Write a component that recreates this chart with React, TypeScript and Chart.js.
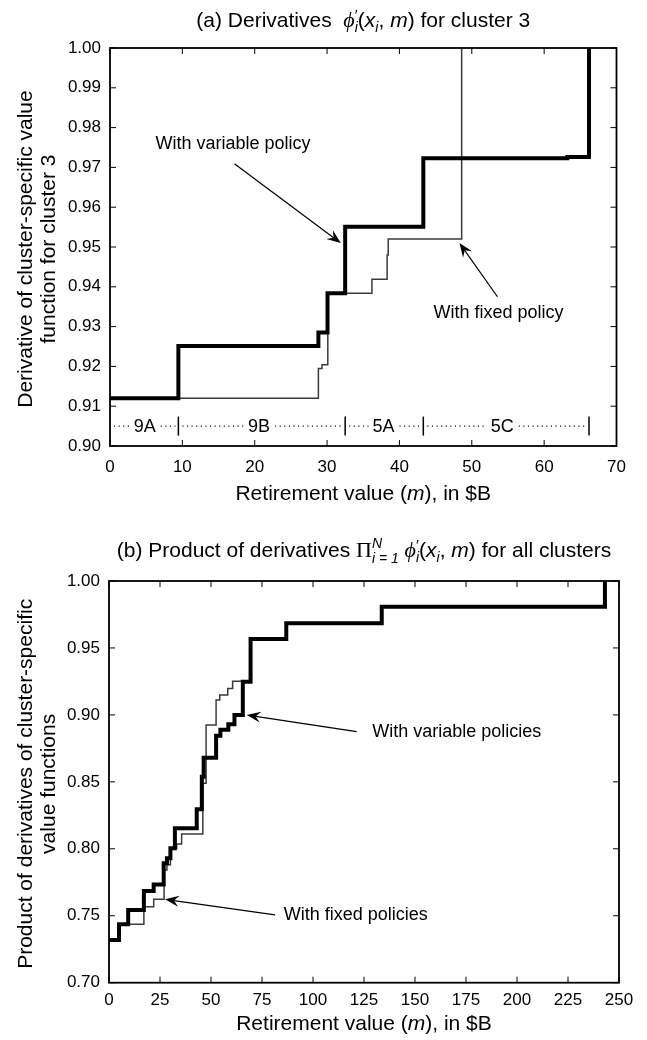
import React, { useEffect, useRef } from "react";
import { Chart, registerables } from "chart.js";

Chart.register(...registerables);

const SANS = '"Liberation Sans", Arial, Helvetica, sans-serif';
const SERIF = '"Liberation Serif", "DejaVu Serif", serif';

// ---------------- Panel (a) data ----------------
const xTicksA = [0, 10, 20, 30, 40, 50, 60, 70];
const xTickLabelsA = ["0", "10", "20", "30", "40", "50", "60", "70"];
const yTicksA = [0.9, 0.91, 0.92, 0.93, 0.94, 0.95, 0.96, 0.97, 0.98, 0.99, 1.0];
const yTickLabelsA = ["0.90", "0.91", "0.92", "0.93", "0.94", "0.95", "0.96", "0.97", "0.98", "0.99", "1.00"];

const mVariableA = [0, 9.45, 28.8, 30.06, 32.5, 43.3, 63.2, 66.2];
const dVariableA = [0.912, 0.9251, 0.9285, 0.9384, 0.9551, 0.9723, 0.9726, 1.0];
const mFixedA = [0, 28.8, 29.3, 30.1, 36.2, 38.3, 38.45, 48.6];
const dFixedA = [0.912, 0.9195, 0.9204, 0.9384, 0.9419, 0.948, 0.952, 1.0];

const segmentBounds = [0, 9.45, 32.5, 43.3, 66.2];
const segmentNames = ["9A", "9B", "5A", "5C"];
const segmentLabelAt = [4.8, 20.6, 37.8, 54.2];
const segmentLevel = 0.905;

// ---------------- Panel (b) data ----------------
const xTicksB = [0, 25, 50, 75, 100, 125, 150, 175, 200, 225, 250];
const xTickLabelsB = ["0", "25", "50", "75", "100", "125", "150", "175", "200", "225", "250"];
const yTicksB = [0.7, 0.75, 0.8, 0.85, 0.9, 0.95, 1.0];
const yTickLabelsB = ["0.70", "0.75", "0.80", "0.85", "0.90", "0.95", "1.00"];

const mVariableB = [0, 4.9, 9.4, 17.1, 21.9, 26.8, 28.4, 30.1, 32.3, 43.0, 45.5, 46.4, 52.5, 54.6, 58.5, 61.5, 65.6, 69.4, 86.9, 133.7, 243.1];
const dVariableB = [0.7319, 0.7436, 0.7543, 0.7685, 0.7733, 0.7892, 0.7929, 0.8004, 0.8153, 0.8295, 0.8538, 0.868, 0.8845, 0.8889, 0.893, 0.8999, 0.9248, 0.9567, 0.9684, 0.9808, 1.0];
const mFixedB = [0, 4.9, 17.1, 21.9, 27.0, 28.4, 30.1, 33.2, 35.6, 46.0, 47.6, 52.5, 54.3, 58.2, 60.6, 65.6, 69.4, 86.9, 133.7, 243.1];
const dFixedB = [0.7319, 0.7436, 0.7568, 0.7623, 0.7842, 0.788, 0.8004, 0.8036, 0.811, 0.849, 0.8925, 0.9111, 0.9149, 0.9197, 0.9251, 0.9248, 0.9567, 0.9684, 0.9808, 1.0];

// ---------------- annotations (data coordinates) ----------------
const notesA = [
  { text: "With variable policy", at: [17.0, 0.9759], from: [17.2, 0.9709], to: [31.9, 0.951] },
  { text: "With fixed policy", at: [53.7, 0.9335], from: [53.55, 0.9375], to: [48.3, 0.951] },
];
const notesB = [
  { text: "With variable policies", at: [170.5, 0.8873], from: [121.4, 0.8875], to: [67.5, 0.8999] },
  { text: "With fixed policies", at: [121.0, 0.7504], from: [81.4, 0.7506], to: [27.45, 0.7623] },
];

type Seg = { t: string; size?: number; italic?: boolean; serif?: boolean; dy?: number; under?: Seg };

function fontOf(s: Seg, base: number) {
  return `${s.italic ? "italic " : ""}${s.size ?? base}px ${s.serif ? SERIF : SANS}`;
}

function drawRich(ctx: CanvasRenderingContext2D, segs: Seg[], cx: number, baseline: number, base: number) {
  const widths = segs.map((s) => {
    ctx.font = fontOf(s, base);
    let w = ctx.measureText(s.t).width;
    if (s.under) {
      ctx.font = fontOf(s.under, base);
      w = Math.max(w, ctx.measureText(s.under.t).width);
    }
    return w;
  });
  const total = widths.reduce((a, b) => a + b, 0);
  let x = cx - total / 2;
  ctx.textAlign = "left";
  ctx.textBaseline = "alphabetic";
  ctx.fillStyle = "#000";
  segs.forEach((s, i) => {
    ctx.font = fontOf(s, base);
    ctx.fillText(s.t, x, baseline + (s.dy ?? 0));
    if (s.under) {
      ctx.font = fontOf(s.under, base);
      ctx.fillText(s.under.t, x, baseline + (s.under.dy ?? 0));
    }
    x += widths[i];
  });
}

function arrow(ctx: CanvasRenderingContext2D, x1: number, y1: number, x2: number, y2: number) {
  const a = Math.atan2(y2 - y1, x2 - x1);
  const c = Math.cos(a), s = Math.sin(a);
  const L = 14, W = 5.5, N = 9;
  ctx.strokeStyle = "#000";
  ctx.fillStyle = "#000";
  ctx.lineWidth = 1.2;
  ctx.setLineDash([]);
  ctx.beginPath();
  ctx.moveTo(x1, y1);
  ctx.lineTo(x2 - N * c, y2 - N * s);
  ctx.stroke();
  ctx.beginPath();
  ctx.moveTo(x2, y2);
  ctx.lineTo(x2 - L * c + W * s, y2 - L * s - W * c);
  ctx.lineTo(x2 - N * c, y2 - N * s);
  ctx.lineTo(x2 - L * c - W * s, y2 - L * s + W * c);
  ctx.closePath();
  ctx.fill();
}

type PanelSpec = {
  title: Seg[];
  titleBaseline: number;
  yTitle: string[];
  yTitleX: number[];
  xTitleBaseline: number;
  xLabelPadding: number;
  notes: { text: string; at: number[]; from: number[]; to: number[] }[];
  xTicks: number[];
  yTicks: number[];
  segments?: boolean;
};

function makePlugin(spec: PanelSpec) {
  return {
    id: "panelDecor",
    afterDraw(chart: any) {
      const ctx: CanvasRenderingContext2D = chart.ctx;
      const { left, right, top, bottom } = chart.chartArea;
      const xs = chart.scales.x;
      const ys = chart.scales.y;
      ctx.save();

      // segments row (panel a)
      if (spec.segments) {
        const yl = ys.getPixelForValue(segmentLevel);
        ctx.font = `18px ${SANS}`;
        ctx.fillStyle = "#000";
        ctx.textAlign = "center";
        ctx.textBaseline = "middle";
        for (let i = 0; i < segmentNames.length; i++) {
          const a = xs.getPixelForValue(segmentBounds[i]);
          const b = xs.getPixelForValue(segmentBounds[i + 1]);
          const lx = xs.getPixelForValue(segmentLabelAt[i]);
          const w = ctx.measureText(segmentNames[i]).width;
          ctx.fillText(segmentNames[i], lx, yl + 1);
          ctx.strokeStyle = "#000";
          ctx.lineWidth = 1.1;
          ctx.setLineDash([1.1, 3.5]);
          ctx.beginPath();
          ctx.moveTo(a + 4, yl);
          ctx.lineTo(lx - w / 2 - 4, yl);
          ctx.moveTo(lx + w / 2 + 5, yl);
          ctx.lineTo(b - 3, yl);
          ctx.stroke();
        }
        ctx.setLineDash([]);
        ctx.lineWidth = 1.5;
        for (let i = 1; i < segmentBounds.length; i++) {
          const px = xs.getPixelForValue(segmentBounds[i]);
          ctx.beginPath();
          ctx.moveTo(px, yl - 9.5);
          ctx.lineTo(px, yl + 9.5);
          ctx.stroke();
        }
      }

      // frame + inward ticks on all sides
      ctx.setLineDash([]);
      ctx.strokeStyle = "#000";
      ctx.lineWidth = 1;
      const tl = 6;
      ctx.beginPath();
      spec.xTicks.forEach((v) => {
        const px = xs.getPixelForValue(v);
        ctx.moveTo(px, bottom);
        ctx.lineTo(px, bottom - tl);
        ctx.moveTo(px, top);
        ctx.lineTo(px, top + tl);
      });
      spec.yTicks.forEach((v) => {
        const py = ys.getPixelForValue(v);
        ctx.moveTo(left, py);
        ctx.lineTo(left + tl, py);
        ctx.moveTo(right, py);
        ctx.lineTo(right - tl, py);
      });
      ctx.stroke();
      ctx.lineWidth = 1.8;
      ctx.strokeRect(left, top, right - left, bottom - top);

      // annotations
      spec.notes.forEach((n) => {
        ctx.font = `18px ${SANS}`;
        ctx.fillStyle = "#000";
        ctx.textAlign = "center";
        ctx.textBaseline = "middle";
        ctx.fillText(n.text, xs.getPixelForValue(n.at[0]), ys.getPixelForValue(n.at[1]));
        arrow(
          ctx,
          xs.getPixelForValue(n.from[0]),
          ys.getPixelForValue(n.from[1]),
          xs.getPixelForValue(n.to[0]),
          ys.getPixelForValue(n.to[1])
        );
      });

      // titles
      const cx = (left + right) / 2;
      drawRich(ctx, spec.title, cx, spec.titleBaseline, 21);
      drawRich(
        ctx,
        [{ t: "Retirement value (" }, { t: "m", italic: true }, { t: "), in $B" }],
        cx,
        spec.xTitleBaseline,
        21
      );
      // y title (rotated)
      const cy = (top + bottom) / 2 + 2;
      ctx.font = `21px ${SANS}`;
      ctx.fillStyle = "#000";
      ctx.textAlign = "center";
      ctx.textBaseline = "middle";
      spec.yTitle.forEach((line, i) => {
        ctx.save();
        ctx.translate(spec.yTitleX[i], cy);
        ctx.rotate(-Math.PI / 2);
        ctx.fillText(line, 0, 0);
        ctx.restore();
      });
      ctx.restore();
    },
  };
}

function makeConfig(
  mVar: number[],
  dVar: number[],
  mFix: number[],
  dFix: number[],
  xTicks: number[],
  xLabels: string[],
  yTicks: number[],
  yLabels: string[],
  area: { left: number; right: number; top: number; bottom: number },
  spec: PanelSpec
): any {
  return {
    type: "line",
    data: {
      datasets: [
        {
          label: "variable",
          data: mVar.map((m, i) => ({ x: m, y: dVar[i] })),
          borderColor: "#000",
          borderWidth: 4,
          pointRadius: 0,
          stepped: true,
          fill: false,
          borderCapStyle: "butt",
          borderJoinStyle: "miter",
        },
        {
          label: "fixed",
          data: mFix.map((m, i) => ({ x: m, y: dFix[i] })),
          borderColor: "#3a3a3a",
          borderWidth: 1.5,
          pointRadius: 0,
          stepped: true,
          fill: false,
          borderCapStyle: "butt",
        },
      ],
    },
    options: {
      responsive: false,
      animation: false,
      devicePixelRatio: 1,
      layout: { padding: { left: 0, top: area.top, right: 647 - area.right, bottom: 0 } },
      plugins: { legend: { display: false }, tooltip: { enabled: false }, title: { display: false } },
      scales: {
        x: {
          type: "linear",
          min: xTicks[0],
          max: xTicks[xTicks.length - 1],
          grid: { display: false, drawTicks: false },
          border: { display: false },
          afterBuildTicks: (s: any) => {
            s.ticks = xTicks.map((v) => ({ value: v }));
          },
          afterFit: (s: any) => {
            s.height = 520 - area.bottom;
          },
          ticks: {
            autoSkip: false,
            maxRotation: 0,
            padding: spec.xLabelPadding,
            color: "#000",
            font: { family: SANS, size: 17 },
            callback: (_v: any, i: number) => xLabels[i],
          },
        },
        y: {
          type: "linear",
          min: yTicks[0],
          max: yTicks[yTicks.length - 1],
          grid: { display: false, drawTicks: false },
          border: { display: false },
          afterBuildTicks: (s: any) => {
            s.ticks = yTicks.map((v) => ({ value: v }));
          },
          afterFit: (s: any) => {
            s.width = area.left;
          },
          ticks: {
            autoSkip: false,
            padding: 9,
            color: "#000",
            font: { family: SANS, size: 17 },
            callback: (_v: any, i: number) => yLabels[i],
          },
        },
      },
    },
    plugins: [makePlugin(spec)],
  };
}

const specA: PanelSpec = {
  title: [
    { t: "(a) Derivatives  " },
    { t: "ϕ", italic: true, serif: true, size: 22 },
    { t: "′", size: 15, dy: -7, under: { t: "i", italic: true, size: 14, dy: 5 } },
    { t: "(" },
    { t: "x", italic: true },
    { t: "i", italic: true, size: 14, dy: 5 },
    { t: ", " },
    { t: "m", italic: true },
    { t: ") for cluster 3" },
  ],
  titleBaseline: 27,
  yTitle: ["Derivative of cluster-specific value", "function for cluster 3"],
  yTitleX: [26, 49],
  xTitleBaseline: 500,
  xLabelPadding: 11,
  notes: notesA,
  xTicks: xTicksA,
  yTicks: yTicksA,
  segments: true,
};

const specB: PanelSpec = {
  title: [
    { t: "(b) Product of derivatives " },
    { t: "Π", serif: true, size: 22 },
    { t: "N", italic: true, size: 14, dy: -9, under: { t: "i = 1", italic: true, size: 14, dy: 6 } },
    { t: " " },
    { t: "ϕ", italic: true, serif: true, size: 22 },
    { t: "′", size: 15, dy: -7, under: { t: "i", italic: true, size: 14, dy: 5 } },
    { t: "(" },
    { t: "x", italic: true },
    { t: "i", italic: true, size: 14, dy: 5 },
    { t: ", " },
    { t: "m", italic: true },
    { t: ") for all clusters" },
  ],
  titleBaseline: 37,
  yTitle: ["Product of derivatives of cluster-specific", "value functions"],
  yTitleX: [26, 49],
  xTitleBaseline: 510,
  xLabelPadding: 7,
  notes: notesB,
  xTicks: xTicksB,
  yTicks: yTicksB,
};

function Panel({ build, top }: { build: () => any; top: number }) {
  const ref = useRef<HTMLCanvasElement>(null);
  useEffect(() => {
    const chart = new Chart(ref.current as HTMLCanvasElement, build());
    return () => chart.destroy();
  }, []);
  return (
    <canvas
      ref={ref}
      width={647}
      height={520}
      style={{ position: "absolute", left: 0, top, width: 647, height: 520, display: "block" }}
    />
  );
}

export default function App() {
  return (
    <div style={{ position: "absolute", left: 0, top: 0, width: 647, height: 1040, background: "#fff" }}>
      <Panel
        top={0}
        build={() =>
          makeConfig(
            mVariableA,
            dVariableA,
            mFixedA,
            dFixedA,
            xTicksA,
            xTickLabelsA,
            yTicksA,
            yTickLabelsA,
            { left: 110, right: 616.5, top: 48, bottom: 446 },
            specA
          )
        }
      />
      <Panel
        top={520}
        build={() =>
          makeConfig(
            mVariableB,
            dVariableB,
            mFixedB,
            dFixedB,
            xTicksB,
            xTickLabelsB,
            yTicksB,
            yTickLabelsB,
            { left: 109, right: 619, top: 61, bottom: 462.7 },
            specB
          )
        }
      />
    </div>
  );
}
